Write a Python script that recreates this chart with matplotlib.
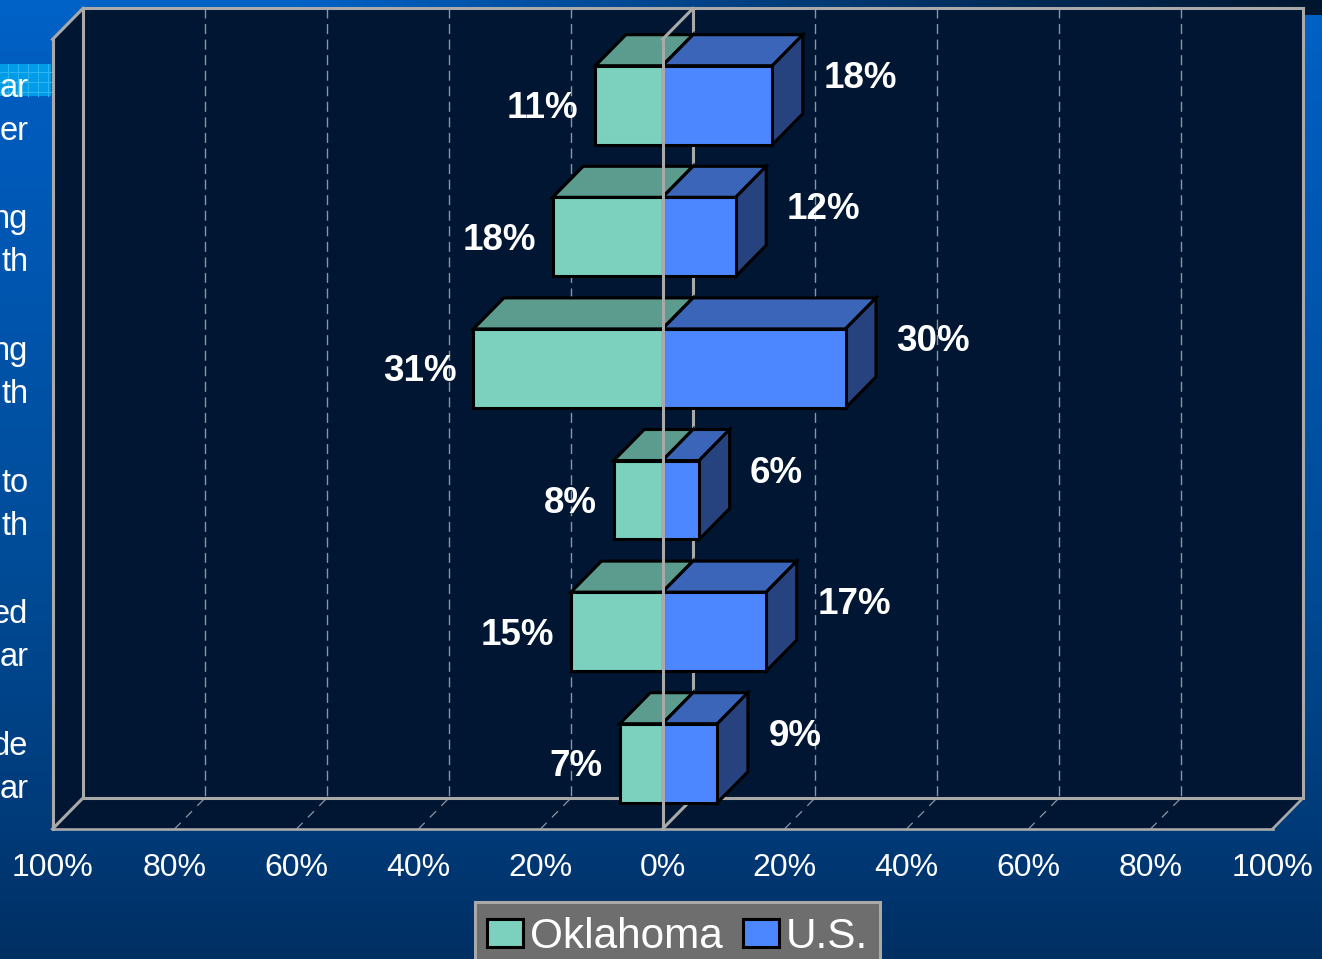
import numpy as np
import matplotlib
matplotlib.use("Agg")
from matplotlib import pyplot as plt
from matplotlib.patches import Patch, Polygon, Rectangle
from matplotlib.transforms import ScaledTranslation

# values
row_labels = ["ar\ner", "ng\nth", "ng\nth", "to\nth", "ed\nar", "de\nar"]
oklahoma = [11, 18, 31, 8, 15, 7]
us = [18, 12, 30, 6, 17, 9]
axis_ticks = [-100, -80, -60, -40, -20, 0, 20, 40, 60, 80, 100]
axis_labels = ["100%", "80%", "60%", "40%", "20%", "0%", "20%", "40%", "60%", "80%", "100%"]

W, H = 1322, 959
PX = 0.72  # points per pixel at dpi 100
BAR_H = 0.6
DX = 5.0     # 3d depth, in data units
DY = 0.2356

plt.rcParams['font.family'] = ['Liberation Sans', 'DejaVu Sans']

fig = plt.figure(figsize=(W / 100, H / 100), dpi=100)

# slide background, drawn in pixel coords
bg = fig.add_axes([0, 0, 1, 1], zorder=0)
bg.set_xlim(0, W)
bg.set_ylim(H, 0)
bg.axis("off")

stops_y = [0, 100, 560, 830, 959]
stops_c = np.array([[0, 98, 198], [0, 92, 190], [0, 76, 152], [0, 58, 120], [0, 47, 98]])
rows = np.arange(H)
img = np.zeros((H, W, 3))
for c in range(3):
    img[:, :, c] = np.interp(rows, stops_y, stops_c[:, c])[:, None]
# dark strip along the top edge
top_x = np.interp(np.arange(W), [0, 300, 1000, 1322], [0, 0, 0.72, 1.0])
top_cols = np.array([0, 98, 198])[None, :] * (1 - top_x[:, None]) + np.array([0, 22, 46])[None, :] * top_x[:, None]
img[:15, :, :] = top_cols[None, :, :]
bg.imshow(img / 255, extent=(0, W, H, 0), aspect="auto", interpolation="bilinear")

# cyan band behind the first row label
bg.fill_between([0, 51], 64, 96, color="#009CE8", lw=0)
for x in [8, 18, 28, 38, 48]:
    bg.plot([x, x], [64, 96], color="#2CB4F2", lw=0.8)
for y in [72, 82, 92]:
    bg.plot([0, 51], [y, y], color="#2CB4F2", lw=0.8)

wall = "#A9A9A9"
panel = "#001632"

# legend box sits in pixel coords, runs off the bottom edge
bg.add_patch(Rectangle((475, 902), 405, 70, facecolor="#6E6E6E", edgecolor=wall, lw=2.2, zorder=3))
bg.set_xlim(0, W)
bg.set_ylim(H, 0)

# chart axes: -100..100 on the front plane
ax = fig.add_axes([52.5 / W, 1 - 829 / H, 1220 / W, 789.6 / H], zorder=1)
ax.patch.set_visible(False)
ax.set_xlim(-100, 100)
ax.set_ylim(5.5, -0.5)
for s in ax.spines.values():
    s.set_visible(False)
ax.set_xticks(axis_ticks)
ax.set_xticklabels(axis_labels, color="white", fontsize=23)
ax.set_yticks(range(len(row_labels)))
ax.set_yticklabels(row_labels, color="white", fontsize=23.5, linespacing=1.5)
ax.tick_params(axis="x", length=0, pad=17.5)
ax.tick_params(axis="y", length=0, pad=17.5)
nudge = ScaledTranslation(0, 5 * PX / 72, fig.dpi_scale_trans)
for lab in ax.get_yticklabels():
    lab.set_transform(lab.get_transform() + nudge)

top, bottom = -0.5, 5.5

ax.add_patch(Polygon([(-100, top), (-100 + DX, top - DY), (100 + DX, top - DY), (100 + DX, bottom - DY),
                      (100, bottom), (-100, bottom)], facecolor=panel, edgecolor="none", clip_on=False, zorder=1))


def wall_line(xs, ys, lw=2.2, z=2):
    ax.plot(xs, ys, color=wall, lw=lw, clip_on=False, zorder=z, solid_capstyle="projecting")


# gridlines on back wall and floor
for t in axis_ticks[1:-1]:
    if t == 0:
        continue
    ax.plot([t + DX, t + DX], [top - DY, bottom - DY], color="#8C95A3", lw=1.0, dashes=(7.2, 4), clip_on=False, zorder=2)
    ax.plot([t, t + DX], [bottom, bottom - DY], color="#8C95A3", lw=0.9, dashes=(7, 6), clip_on=False, zorder=2)

wall_line([-100, -100], [top, bottom])
wall_line([-100, -100 + DX], [top, top - DY])
wall_line([-100 + DX, 100 + DX], [top - DY, top - DY])
wall_line([100 + DX, 100 + DX], [top - DY, bottom - DY])
wall_line([-100 + DX, -100 + DX], [top - DY, bottom - DY])
wall_line([-100 + DX, 100 + DX], [bottom - DY, bottom - DY])
wall_line([-100, 100], [bottom, bottom], lw=1.9)
wall_line([-100, -100 + DX], [bottom, bottom - DY])
wall_line([100, 100 + DX], [bottom, bottom - DY], lw=1.9)
wall_line([DX, DX], [top - DY, bottom - DY])
wall_line([0, DX], [bottom, bottom - DY], z=2)


def box(x0, x1, y, front, lid, side):
    y0, y1 = y - BAR_H / 2, y + BAR_H / 2
    style = dict(edgecolor="black", lw=2.2, joinstyle="miter", zorder=4, clip_on=False)
    ax.add_patch(Polygon([(x0, y0), (x0 + DX, y0 - DY), (x1 + DX, y0 - DY), (x1, y0)], facecolor=lid, **style))
    ax.add_patch(Polygon([(x1, y0), (x1 + DX, y0 - DY), (x1 + DX, y1 - DY), (x1, y1)], facecolor=side, **style))
    ax.add_patch(Polygon([(x0, y0), (x1, y0), (x1, y1), (x0, y1)], facecolor=front, **style))


for i, (ok, u) in enumerate(zip(oklahoma, us)):
    box(-ok, 0, i, "#7BD0BE", "#5B9C8E", "#3F7D70")
    box(0, u, i, "#4D87FF", "#3A65B8", "#264380")
    ax.annotate(f"{ok}%", (-ok, i), xytext=(-17 * PX, -3.5 * PX), textcoords="offset points", ha="right", va="center",
                color="white", fontsize=26.5, fontweight="bold", zorder=6)
    ax.annotate(f"{u}%", (u, i), xytext=(51 * PX, 27 * PX), textcoords="offset points", ha="left", va="center",
                color="white", fontsize=26.5, fontweight="bold", zorder=6)

# centre line runs in front of the bars
wall_line([0, 0], [top, bottom], z=5)
wall_line([0, DX], [top, top - DY], z=5)

handles = [Patch(facecolor="#7BD0BE", edgecolor="black", lw=2.2, label="Oklahoma"),
           Patch(facecolor="#4D87FF", edgecolor="black", lw=2.2, label="U.S.")]
leg = ax.legend(handles=handles, ncols=2, fontsize=30.5, loc="upper left",
                bbox_to_anchor=(487 / W, 1 - 917 / H), bbox_transform=fig.transFigure,
                borderaxespad=0, borderpad=0, frameon=False,
                labelcolor="white", handlelength=0.86, handleheight=0.62, handletextpad=0.15,
                columnspacing=0.48)
leg.set_zorder(7)

fig.savefig("out.png", dpi=100)
